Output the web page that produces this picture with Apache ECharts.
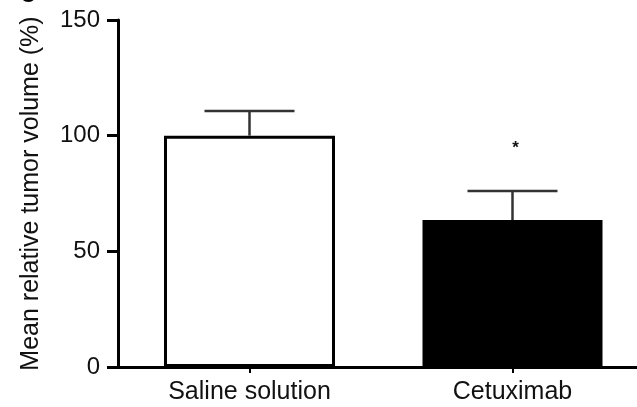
<!DOCTYPE html>
<html>
<head>
<meta charset="utf-8">
<script src="https://cdn.jsdelivr.net/npm/echarts@6/dist/echarts.min.js"></script>
<style>
  html, body { margin: 0; padding: 0; background: #fff; }
  #chart { width: 637px; height: 407px; }
</style>
</head>
<body>
<div id="chart"></div>
<script>
// Groups and their mean relative tumour volume with SEM
const groups = ['Saline solution', 'Cetuximab'];
const meanVolume = [100, 63.5];
const semVolume = [10.7, 12.6];
const significance = ['', '*'];
const yTicks = { min: 0, max: 150, interval: 50 };

const FONT = '"Liberation Sans", Arial, Helvetica, sans-serif';

const chart = echarts.init(document.getElementById('chart'), null, { renderer: 'canvas' });

// Each group's bar sits on its own (overlapping) category axis so that
// bars of different widths stay centred on their category.
const barSeries = groups.map((g, i) => ({
  type: 'bar',
  name: g,
  xAxisIndex: i,
  barWidth: i === 0 ? 171 : 180,
  z: 2,
  itemStyle: i === 0
    ? { color: '#ffffff', borderColor: '#000000', borderWidth: 3 }
    : { color: '#000000', borderWidth: 0 },
  data: meanVolume.map((v, j) => (j === i ? v : '-'))
}));

chart.setOption({
  animation: false,
  backgroundColor: '#ffffff',
  graphic: [{
    type: 'text',
    x: 28,
    y: 9,
    style: { text: 'c', font: 'bold 30px ' + FONT, fill: '#000', align: 'center', verticalAlign: 'bottom' }
  }],
  // The plot runs slightly past the right edge of the canvas
  grid: { left: 118, top: 20, width: 526, height: 347, containLabel: false, outerBoundsMode: 'none' },
  xAxis: [
    {
      type: 'category',
      data: groups,
      axisLine: { show: true, lineStyle: { color: '#000', width: 3 } },
      axisTick: { show: true, alignWithLabel: true, length: 6, lineStyle: { color: '#000', width: 2 } },
      axisLabel: { color: '#111', fontSize: 25, fontFamily: FONT, margin: 13 }
    },
    {
      type: 'category',
      data: groups,
      position: 'bottom',
      show: false
    }
  ],
  yAxis: {
    type: 'value',
    min: yTicks.min,
    max: yTicks.max,
    interval: yTicks.interval,
    name: 'Mean relative tumor volume (%)',
    nameLocation: 'middle',
    nameGap: 74,
    nameRotate: 90,
    nameTextStyle: { color: '#111', fontSize: 25, fontFamily: FONT },
    axisLine: { show: true, lineStyle: { color: '#000', width: 3 } },
    axisTick: { show: true, length: 11, lineStyle: { color: '#000', width: 3 } },
    axisLabel: { color: '#111', fontSize: 24, fontFamily: FONT, margin: 18 },
    splitLine: { show: false }
  },
  series: barSeries.concat([
    {
      type: 'custom',
      z: 3,
      data: meanVolume.map((v, i) => [i, v, v + semVolume[i]]),
      renderItem: function (params, api) {
        const i = api.value(0);
        const base = api.coord([i, api.value(1)]);
        const top = api.coord([i, api.value(2)]);
        const half = 45;
        const style = { stroke: '#333', lineWidth: 2.5, fill: null };
        const children = [
          { type: 'line', shape: { x1: base[0], y1: base[1], x2: top[0], y2: top[1] }, style: style },
          { type: 'line', shape: { x1: top[0] - half, y1: top[1], x2: top[0] + half, y2: top[1] }, style: style }
        ];
        const mark = significance[i];
        if (mark) {
          children.push({
            type: 'text',
            style: {
              text: mark,
              x: top[0] + 3,
              y: top[1] - 43,
              align: 'center',
              verticalAlign: 'middle',
              font: 'bold 17px ' + FONT,
              fill: '#111'
            }
          });
        }
        return { type: 'group', children: children };
      }
    }
  ])
});
</script>
</body>
</html>
